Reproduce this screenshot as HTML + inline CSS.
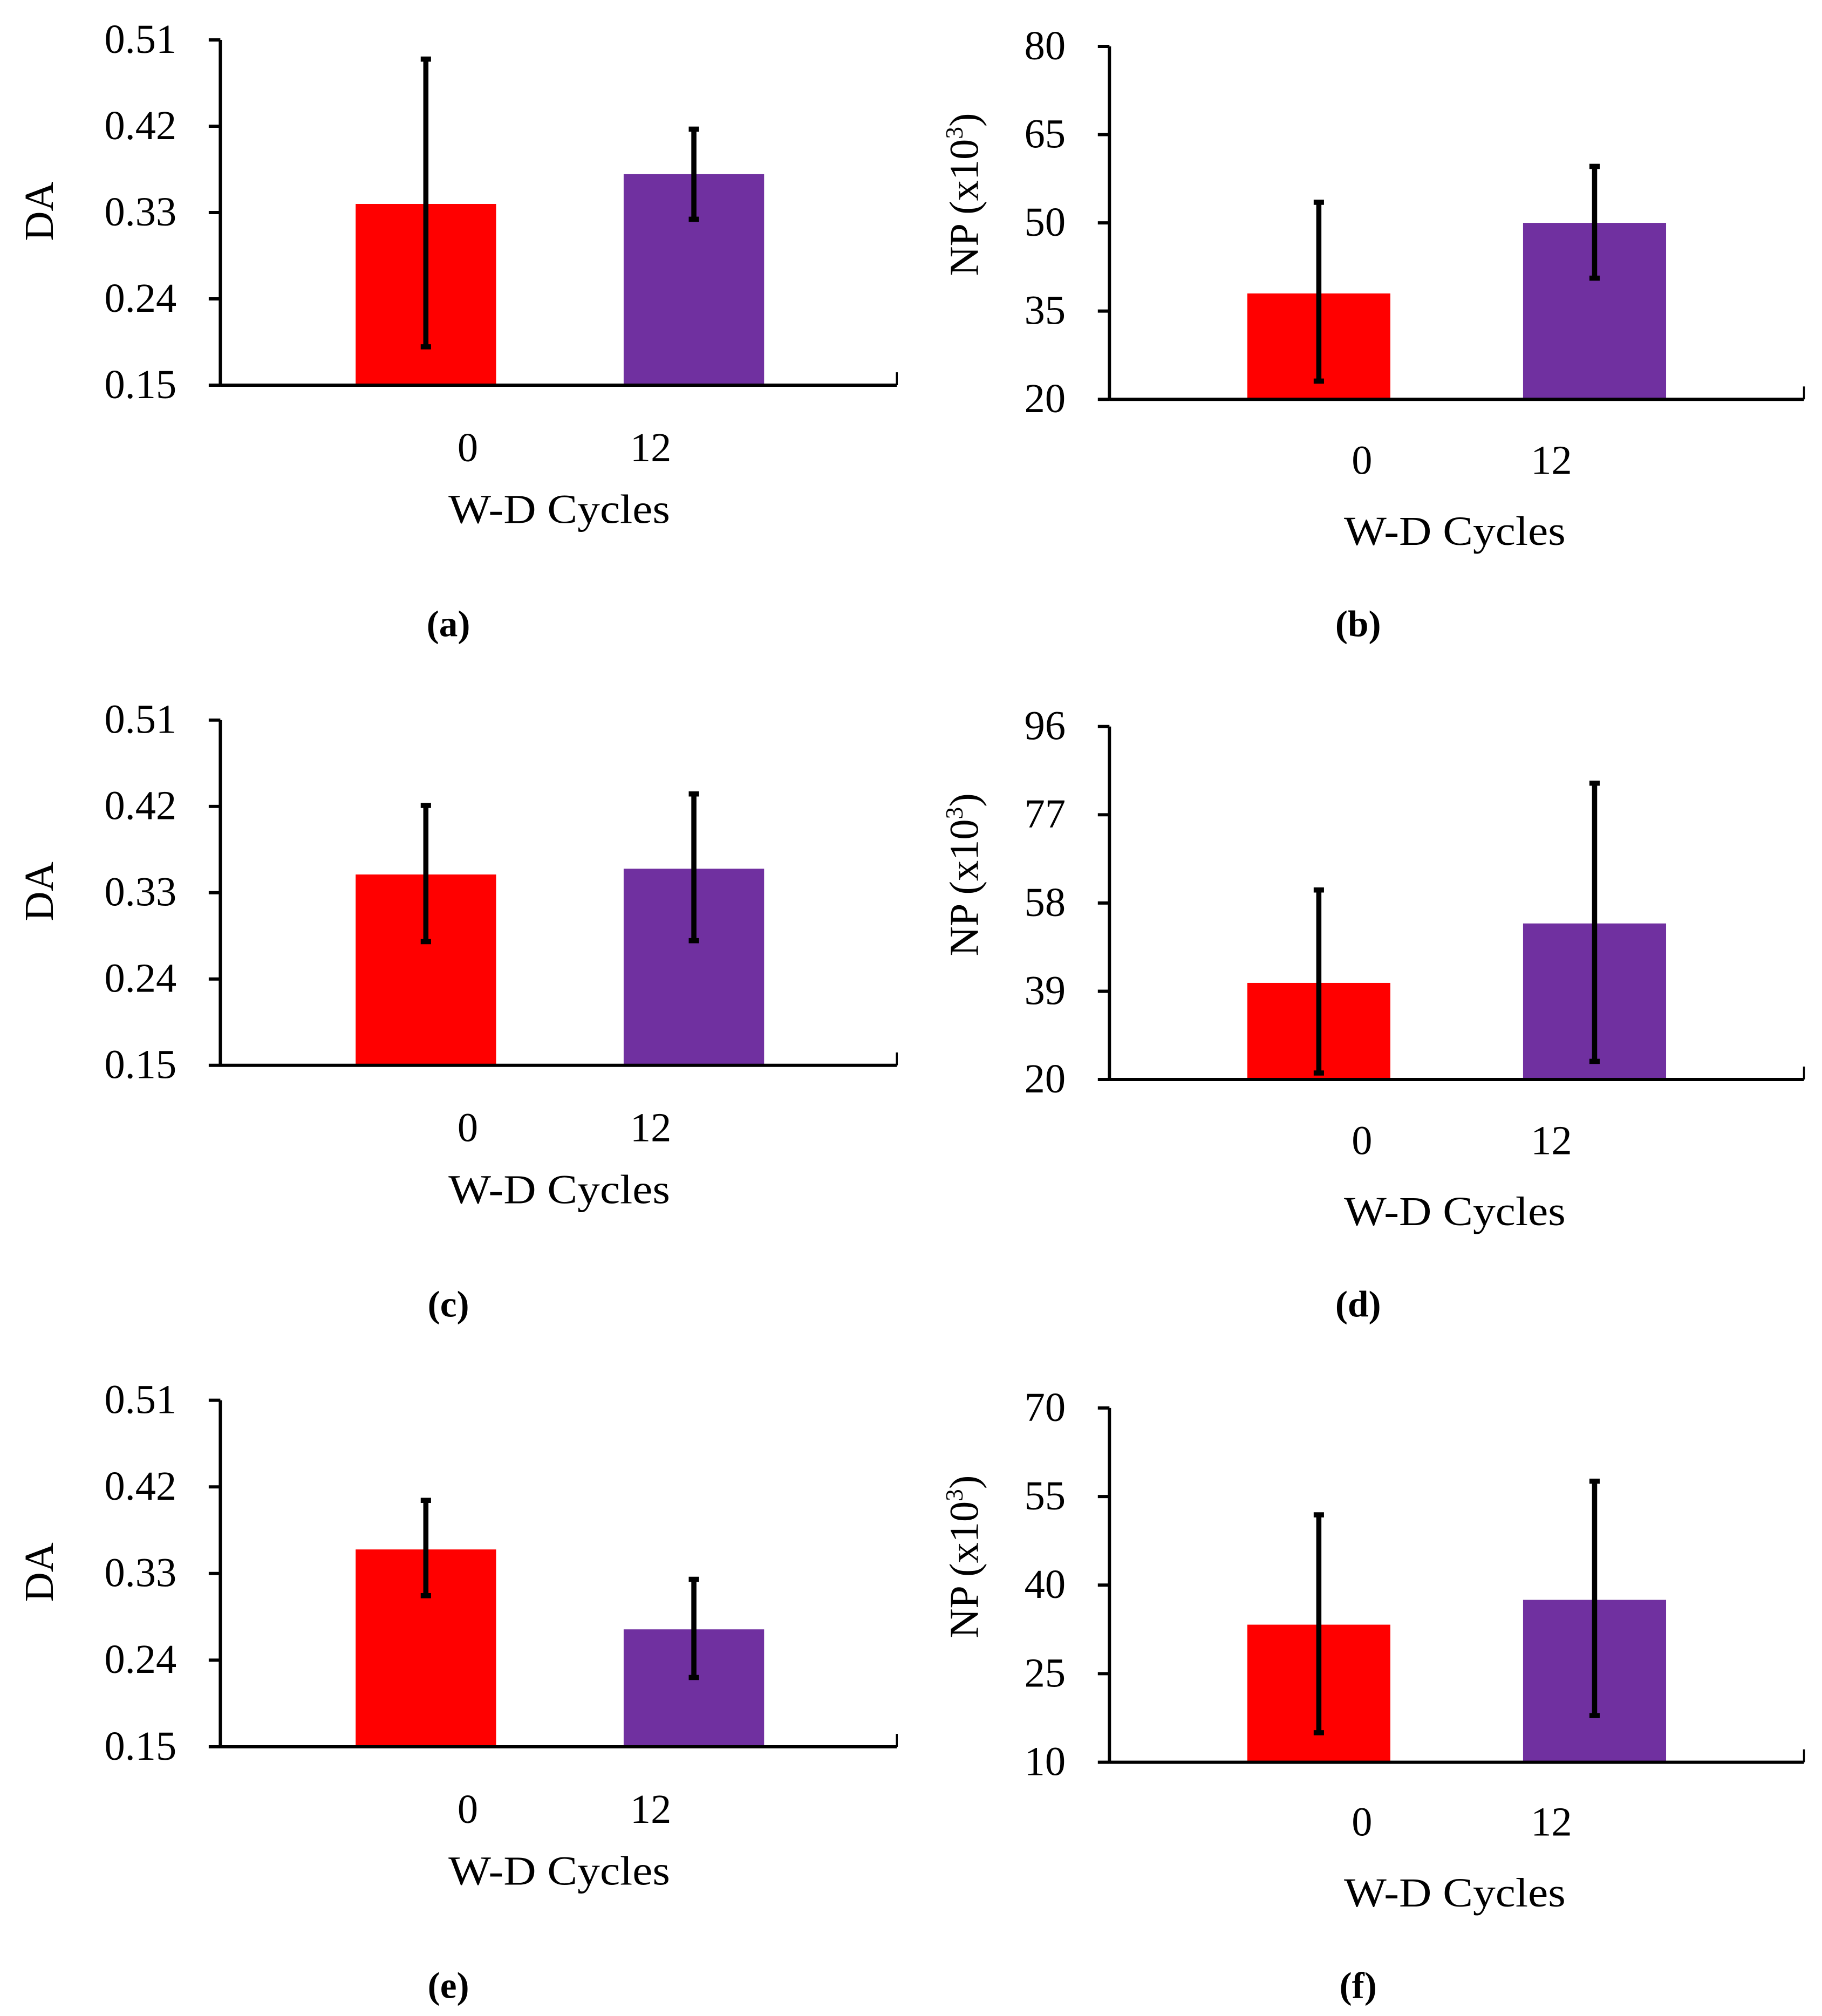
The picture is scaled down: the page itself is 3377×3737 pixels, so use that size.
<!DOCTYPE html>
<html><head><meta charset="utf-8"><style>
html,body{margin:0;padding:0;background:#fff}
svg{display:block}
text{font-family:"Liberation Serif",serif;fill:#000}
</style></head><body>
<svg id="fig" width="3377" height="3737" viewBox="0 0 1414 1565" preserveAspectRatio="none" xmlns="http://www.w3.org/2000/svg"></svg>
<script>
const categories = ["0", "12"];
const panelLetters = ["(a)", "(b)", "(c)", "(d)", "(e)", "(f)"];
const yTitles = ["DA", "NP", "DA", "NP", "DA", "NP"];
const yTicksA = [0.15, 0.24, 0.33, 0.42, 0.51];
const yTicksB = [20, 35, 50, 65, 80];
const yTicksC = [0.15, 0.24, 0.33, 0.42, 0.51];
const yTicksD = [20, 39, 58, 77, 96];
const yTicksE = [0.15, 0.24, 0.33, 0.42, 0.51];
const yTicksF = [10, 25, 40, 55, 70];
const meansA = [0.339, 0.370];
const errLoA = [0.190, 0.323];
const errHiA = [0.490, 0.417];
const meansB = [38.0, 50.0];
const errLoB = [23.1, 40.6];
const errHiB = [53.5, 59.6];
const meansC = [0.349, 0.355];
const errLoC = [0.279, 0.280];
const errHiC = [0.421, 0.433];
const meansD = [40.8, 53.6];
const errLoD = [21.4, 23.9];
const errHiD = [60.8, 83.8];
const meansE = [0.355, 0.272];
const errLoE = [0.307, 0.222];
const errHiE = [0.406, 0.324];
const meansF = [33.3, 37.5];
const errLoF = [15.0, 17.9];
const errHiF = [51.9, 57.6];

const NS = "http://www.w3.org/2000/svg";
const svg = document.getElementById("fig");
function mk(tag, attrs, parent, txt){
  const e = document.createElementNS(NS, tag);
  for (const k in attrs) e.setAttribute(k, attrs[k]);
  if (txt !== undefined) e.textContent = txt;
  (parent || svg).appendChild(e);
  return e;
}
const layouts = [
  {ax:171, xr:696, top:31, bot:299, bars:[276,484], bw:109, tickY:348, titleY:396, titleX:434, tickX:[363,505], letY:485, letX:348, ylx:30},
  {ax:861, xr:1400, top:36, bot:310, bars:[968,1182], bw:111, tickY:358, titleY:413, titleX:1129, tickX:[1057,1204], letY:485, letX:1054, ylx:748},
  {ax:171, xr:696, top:559, bot:827, bars:[276,484], bw:109, tickY:876, titleY:924, titleX:434, tickX:[363,505], letY:1013, letX:348, ylx:30},
  {ax:861, xr:1400, top:564, bot:838, bars:[968,1182], bw:111, tickY:886, titleY:941, titleX:1129, tickX:[1057,1204], letY:1013, letX:1054, ylx:748},
  {ax:171, xr:696, top:1087, bot:1356, bars:[276,484], bw:109, tickY:1405, titleY:1453, titleX:434, tickX:[363,505], letY:1542, letX:348, ylx:30},
  {ax:861, xr:1400, top:1093, bot:1368, bars:[968,1182], bw:111, tickY:1415, titleY:1470, titleX:1129, tickX:[1057,1204], letY:1542, letX:1054, ylx:748}
];
const ticksAll = [yTicksA,yTicksB,yTicksC,yTicksD,yTicksE,yTicksF];
const meansAll = [meansA,meansB,meansC,meansD,meansE,meansF];
const loAll = [errLoA,errLoB,errLoC,errLoD,errLoE,errLoF];
const hiAll = [errHiA,errHiB,errHiC,errHiD,errHiE,errHiF];
const colors = ["#ff0000", "#7030a0"];

layouts.forEach((L, p) => {
  const g = mk("g", {});
  
  
  const ticks = ticksAll[p];
  const lo = ticks[0], hi = ticks[ticks.length-1];
  const y = v => L.bot - (v - lo) / (hi - lo) * (L.bot - L.top);
  const means = meansAll[p];
  means.forEach((m, i) => {
    const r = mk("rect", {x:L.bars[i], y:y(m), width:L.bw, height:L.bot - y(m), fill:colors[i]}, g);
    
    
    const cx = L.bars[i] + L.bw/2;
    const eb = mk("g", {}, g);
    
    
    mk("line", {x1:cx, x2:cx, y1:y(hiAll[p][i]), y2:y(loAll[p][i]), stroke:"#000", "stroke-width":4}, eb);
    mk("line", {x1:cx-4, x2:cx+4, y1:y(hiAll[p][i]), y2:y(hiAll[p][i]), stroke:"#000", "stroke-width":4}, eb);
    mk("line", {x1:cx-4, x2:cx+4, y1:y(loAll[p][i]), y2:y(loAll[p][i]), stroke:"#000", "stroke-width":4}, eb);
    const tl = mk("text", {x:L.tickX[i], y:L.tickY + 10, "font-size":32, "text-anchor":"middle"}, g, categories[i]);
    
    
  });
  const ya = mk("line", {x1:L.ax, x2:L.ax, y1:L.top, y2:L.bot+1, stroke:"#000", "stroke-width":2.5}, g);
  
  
  const xa = mk("line", {x1:L.ax, x2:L.xr, y1:L.bot, y2:L.bot, stroke:"#000", "stroke-width":2.5}, g);
  
  
  mk("line", {x1:L.xr, x2:L.xr, y1:L.bot-10, y2:L.bot, stroke:"#000", "stroke-width":1.5}, g);
  ticks.forEach(t => {
    mk("line", {x1:L.ax-9, x2:L.ax, y1:y(t), y2:y(t), stroke:"#000", "stroke-width":2.5}, g);
    const lab = (p % 2 === 0) ? t.toFixed(2) : String(t);
    const tt = mk("text", {x:L.ax-34, y:y(t)+10, "font-size":32, "text-anchor":"end"}, g, lab);
    
    
  });
  const cy = (L.top + L.bot)/2;
  let yt;
  if (p % 2 === 0) {
    yt = mk("text", {x:0, y:0, "font-size":32, "text-anchor":"middle", transform:`translate(${L.ylx+11},${cy-1}) rotate(-90)`}, g, "DA");
  } else {
    yt = mk("text", {x:0, y:0, "font-size":32, "text-anchor":"middle", transform:`translate(${L.ylx+11},${cy-22}) rotate(-90)`}, g);
    mk("tspan", {}, yt, "NP (x10");
    mk("tspan", {"font-size":19, dy:-12}, yt, "3");
    mk("tspan", {dy:12}, yt, ")");
  }
  
  
  const xt = mk("text", {x:L.titleX, y:L.titleY + 10, "font-size":32, "text-anchor":"middle", textLength:172, lengthAdjust:"spacingAndGlyphs"}, g, "W-D Cycles");
  
  
  const lt = mk("text", {x:L.letX, y:L.letY + 9, "font-size":29, "font-weight":"bold", "text-anchor":"middle"}, g, panelLetters[p]);
  
  
});
</script>
</body></html>
